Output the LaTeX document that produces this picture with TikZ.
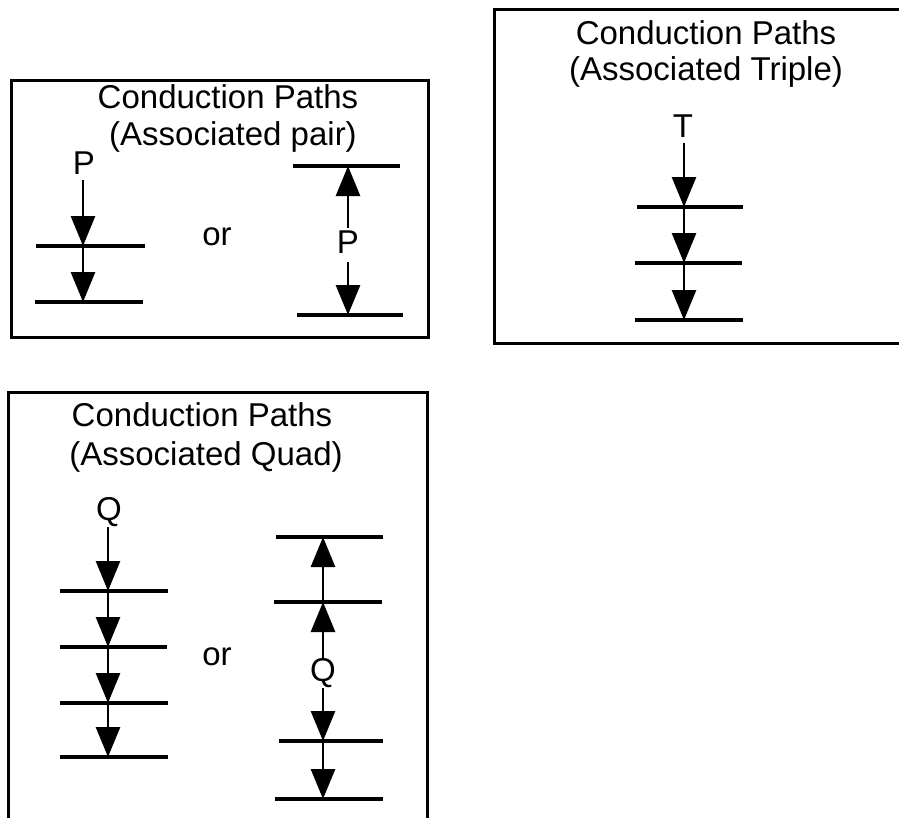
\documentclass[tikz,border=0pt]{standalone}
\usepackage{fontspec}
\setmainfont{Liberation Sans}
\usetikzlibrary{arrows.meta}
\tikzset{
  frame/.style={draw, line width=3pt},
  level/.style={draw, line width=3.2pt},
  flow/.style={draw, line width=2.8pt, -{Triangle[length=30pt,width=24pt]}},
  lbl/.style={anchor=base, inner sep=0pt, font=\fontsize{33}{37}\selectfont},
}
\begin{document}
\begin{tikzpicture}[x=1pt,y=-1pt]
\useasboundingbox (0,0) rectangle (899,817);
\clip (0,0) rectangle (899,817);
\fill[white] (0,0) rectangle (899,817);

% ---------- Box 1: Associated pair ----------
\draw[frame] (11,80) rectangle (428,337);
\node[lbl] (t1a) at (228,108) {Conduction Paths};
\node[lbl] (t1b) at (233,145) {(Associated pair)};
% left diagram
\node[lbl] (p1) at (84,174) {P};
\coordinate (p1s) at (83,180);
\coordinate (a1L) at (36,246); \coordinate (a1R) at (145,246);
\coordinate (a1) at (83,246);
\coordinate (a2L) at (35,302); \coordinate (a2R) at (143,302);
\coordinate (a2) at (83,302);
\draw[level] (a1L) -- (a1R);
\draw[level] (a2L) -- (a2R);
\draw[flow] (p1s) -- (a1);
\draw[flow] (a1) -- (a2);
\node[lbl] (or1) at (217,245) {or};
% right diagram
\coordinate (b1L) at (293,166); \coordinate (b1R) at (400,166);
\coordinate (b1) at (348,166);
\coordinate (b2L) at (297,315); \coordinate (b2R) at (403,315);
\coordinate (b2) at (348,315);
\draw[level] (b1L) -- (b1R);
\draw[level] (b2L) -- (b2R);
\node[lbl] (p2) at (348,253) {P};
\coordinate (p2t) at (348,228);
\coordinate (p2b) at (348,262);
\draw[flow] (p2t) -- (b1);
\draw[flow] (p2b) -- (b2);

% ---------- Box 2: Associated Triple ----------
\draw[frame] (494,9) -- (910,9) -- (910,343) -- (494,343) -- cycle;
\node[lbl] (t2a) at (706,44) {Conduction Paths};
\node[lbl] (t2b) at (706,80) {(Associated Triple)};
\node[lbl] (tt) at (683,137) {T};
\coordinate (ts) at (684,143);
\coordinate (c1L) at (637,207); \coordinate (c1R) at (743,207); \coordinate (c1) at (684,207);
\coordinate (c2L) at (635,263); \coordinate (c2R) at (742,263); \coordinate (c2) at (684,263);
\coordinate (c3L) at (635,320); \coordinate (c3R) at (743,320); \coordinate (c3) at (684,320);
\draw[level] (c1L) -- (c1R);
\draw[level] (c2L) -- (c2R);
\draw[level] (c3L) -- (c3R);
\draw[flow] (ts) -- (c1);
\draw[flow] (c1) -- (c2);
\draw[flow] (c2) -- (c3);

% ---------- Box 3: Associated Quad ----------
\draw[frame] (8,392) -- (427,392) -- (427,830) -- (8,830) -- cycle;
\node[lbl] (t3a) at (202,426) {Conduction Paths};
\node[lbl] (t3b) at (206,465) {(Associated Quad)};
% left diagram
\node[lbl] (q1) at (109,520) {Q};
\coordinate (q1s) at (108,527);
\coordinate (d1L) at (60,591); \coordinate (d1R) at (168,591); \coordinate (d1) at (108,591);
\coordinate (d2L) at (60,647); \coordinate (d2R) at (167,647); \coordinate (d2) at (108,647);
\coordinate (d3L) at (60,703); \coordinate (d3R) at (168,703); \coordinate (d3) at (108,703);
\coordinate (d4L) at (60,757); \coordinate (d4R) at (168,757); \coordinate (d4) at (108,757);
\draw[level] (d1L) -- (d1R);
\draw[level] (d2L) -- (d2R);
\draw[level] (d3L) -- (d3R);
\draw[level] (d4L) -- (d4R);
\draw[flow] (q1s) -- (d1);
\draw[flow] (d1) -- (d2);
\draw[flow] (d2) -- (d3);
\draw[flow] (d3) -- (d4);
\node[lbl] (or2) at (217,665) {or};
% right diagram
\coordinate (e1L) at (276,537); \coordinate (e1R) at (383,537); \coordinate (e1) at (323,537);
\coordinate (e2L) at (274,602); \coordinate (e2R) at (382,602); \coordinate (e2) at (323,602);
\coordinate (e3L) at (279,741); \coordinate (e3R) at (383,741); \coordinate (e3) at (323,741);
\coordinate (e4L) at (275,799); \coordinate (e4R) at (383,799); \coordinate (e4) at (323,799);
\draw[level] (e1L) -- (e1R);
\draw[level] (e2L) -- (e2R);
\draw[level] (e3L) -- (e3R);
\draw[level] (e4L) -- (e4R);
\node[lbl] (q2) at (323,681) {Q};
\coordinate (q2t) at (323,660);
\coordinate (q2b) at (323,688);
\draw[flow] (e2) -- (e1);
\draw[flow] (q2t) -- (e2);
\draw[flow] (q2b) -- (e3);
\draw[flow] (e3) -- (e4);
\end{tikzpicture}
\end{document}
